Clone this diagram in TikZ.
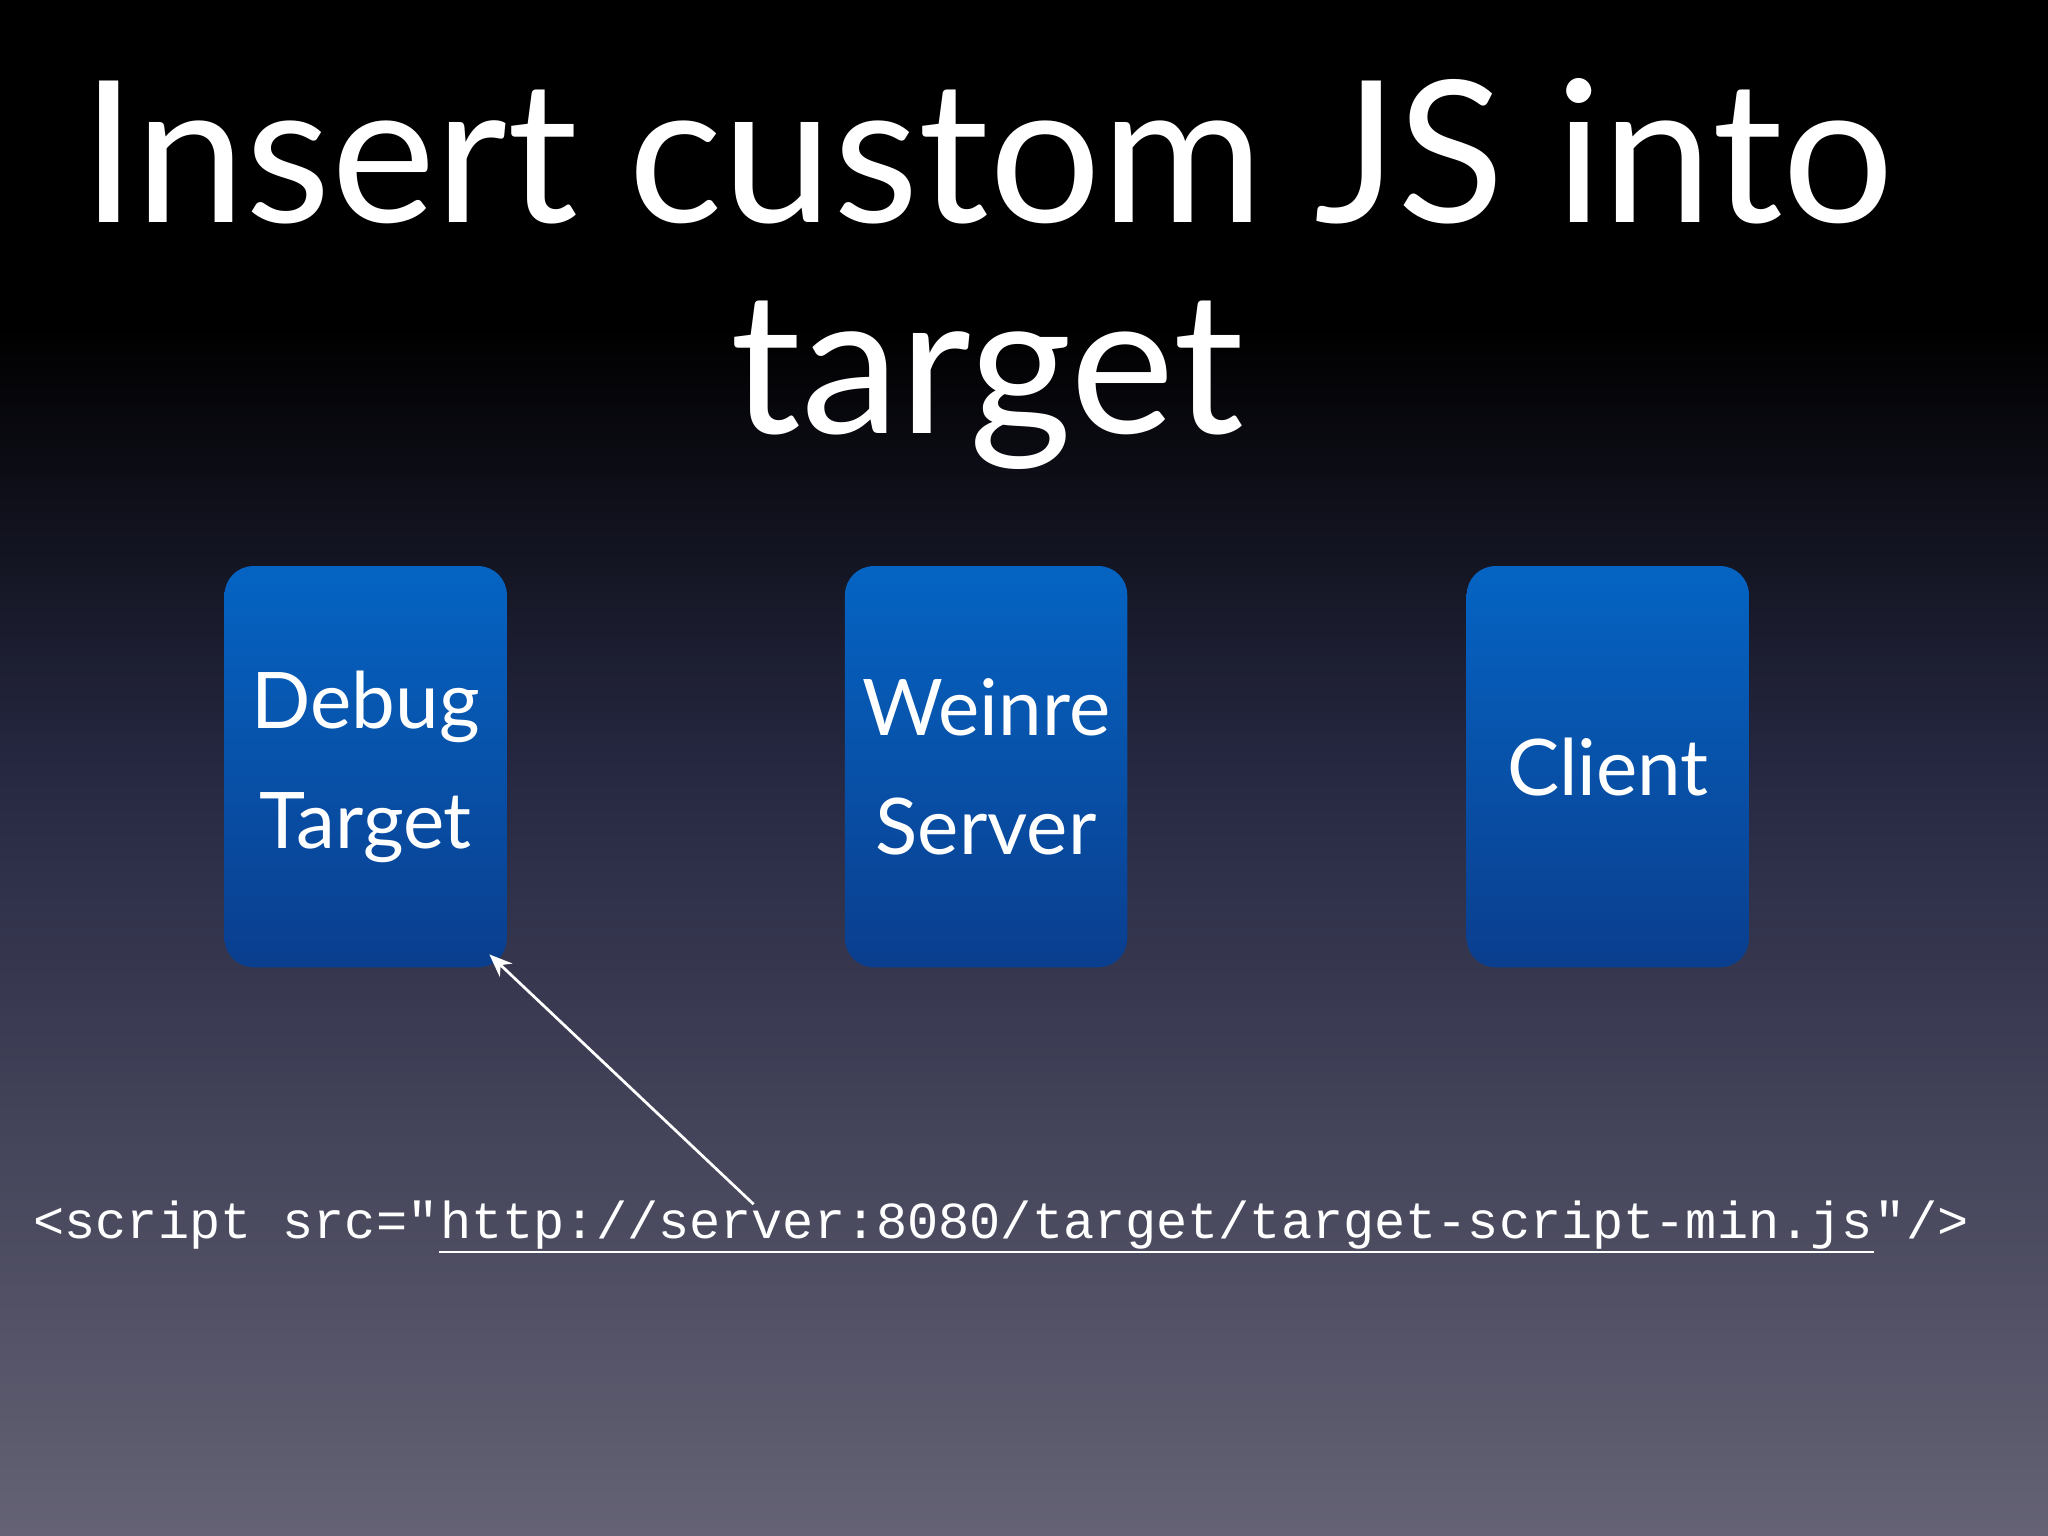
\documentclass[tikz,border=0pt]{standalone}
\usepackage{fontspec}
\setmainfont{Lato}
\setmonofont{Liberation Mono}
\usetikzlibrary{arrows.meta}
\begin{document}
\begin{tikzpicture}[x=0.01cm,y=-0.01cm,
  box/.style={rounded corners=0.22cm, minimum width=2.16cm, minimum height=3.07cm, top color={rgb,255:red,5;green,100;blue,195}, bottom color={rgb,255:red,10;green,62;blue,142}, text=white, align=center, font=\fontsize{17}{26}\selectfont, inner sep=0pt, text width=2.1cm},
  code/.style={text=white, font=\ttfamily\fontsize{11.3}{13}\selectfont, inner sep=0pt, anchor=base west},
  conn/.style={draw=white, line width=0.6pt, -{Stealth[length=5pt,width=4pt]}}]
\useasboundingbox (0,0) rectangle (1568,1176);
\fill[black] (0,0) rectangle (1568,252);
\shade[top color=black, bottom color={rgb,255:red,38;green,40;blue,66}] (0,250) rectangle (1568,590);
\shade[top color={rgb,255:red,38;green,40;blue,66}, bottom color={rgb,255:red,100;green,98;blue,116}] (0,588) rectangle (1568,1176);
\node[text=white, align=center, font=\fontsize{43}{46}\selectfont] (title) at (756,210) {Insert custom JS into\\target};
\node[box] (dt) at (280,587) {Debug Target};
\node[box] (ws) at (755,587) {Weinre\\Server};
\node[box] (cl) at (1231,587) {Client};
\node[code] (c1) at (25,948) {<script src="};
\node[code] (c2) at (c1.base east) {http://server:8080/target/target-script-min.js};
\node[code] (c3) at (c2.base east) {"/>};
\draw[white, line width=0.5pt] ([yshift=-3pt]c2.base west) -- ([yshift=-3pt]c2.base east);
\coordinate (s) at (577,922);
\draw[conn] (s) -- ([xshift=-4pt,yshift=3pt]dt.south east);
\end{tikzpicture}
\end{document}
